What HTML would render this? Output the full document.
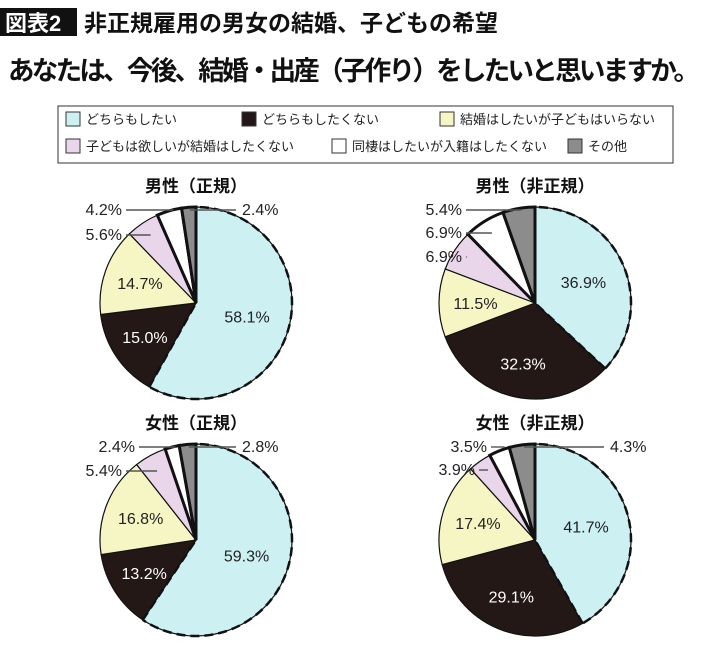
<!DOCTYPE html>
<html><head><meta charset="utf-8">
<style>
body{margin:0;background:#fff;width:710px;height:647px;overflow:hidden;font-family:"Liberation Sans","Noto Sans CJK JP",sans-serif;}
svg{display:block}
</style></head><body>
<svg id="chart" width="710" height="647" viewBox="0 0 710 647" xmlns="http://www.w3.org/2000/svg" font-family="Liberation Sans, Noto Sans CJK JP, sans-serif">
  <rect x="0" y="8" width="77" height="28" fill="#111"/>
  <text x="5" y="31" font-size="22" font-weight="bold" fill="#fff">図表2</text>
  <text x="84" y="31" font-size="23" font-weight="bold" fill="#111">非正規雇用の男女の結婚、子どもの希望</text>
  <text x="8" y="80" font-size="26.5" font-weight="bold" fill="#111" textLength="692">あなたは、今後、結婚・出産（子作り）をしたいと思いますか。</text>
  <g>
    <rect x="58" y="106" width="615" height="57" fill="#fff" stroke="#333" stroke-width="1"/>
  </g>
  <g id="legend-entries"></g>
  <g id="pies"></g>
</svg>
<script>
const categories = ["どちらもしたい","どちらもしたくない","結婚はしたいが子どもはいらない","子どもは欲しいが結婚はしたくない","同棲はしたいが入籍はしたくない","その他"];
const colors = ["#cdf1f3","#231815","#f6f6c4","#ead6ea","#ffffff","#8c8c8c"];
const pieTitles = ["男性（正規）","男性（非正規）","女性（正規）","女性（非正規）"];
const menRegular = [58.1,15.0,14.7,5.6,4.2,2.4];
const menIrregular = [36.9,32.3,11.5,6.9,6.9,5.4];
const womenRegular = [59.3,13.2,16.8,5.4,2.4,2.8];
const womenIrregular = [41.7,29.1,17.4,3.9,3.5,4.3];
const series = [menRegular,menIrregular,womenRegular,womenIrregular];

const NS="http://www.w3.org/2000/svg";
function mk(tag,attrs,parent){const e=document.createElementNS(NS,tag);for(const k in attrs)e.setAttribute(k,attrs[k]);parent.appendChild(e);return e;}

const lg=document.getElementById('legend-entries');
const legPos=[[66,119],[242,119],[440,119],[66,146],[332,146],[568,146]];
categories.forEach((c,i)=>{
  const g=mk('g',{},lg);
  
  
  const [x,y]=legPos[i];
  mk('rect',{x:x,y:y-7,width:14,height:14,fill:colors[i],stroke:'#333','stroke-width':1},g);
  const t=mk('text',{x:x+20,y:y+5,'font-size':13,fill:'#222'},g);
  t.textContent=c;
});

const centers=[[196,303],[535,303],[196,540],[535,540]];
const R=96;
const smallLayout=[
  [[122,240,'end'],[122,215,'end'],[240,215,'start']],
  [[462,262,'end'],[462,238,'end'],[462,215,'end']],
  [[122,476,'end'],[135,452,'end'],[240,452,'start']],
  [[475,475,'end'],[487,452,'end'],[608,452,'start']]
];
const innerR=[0.55,0.64,0.62];
const pg=document.getElementById('pies');
function pt(cx,cy,r,f){const a=f*2*Math.PI;return [cx+r*Math.sin(a),cy-r*Math.cos(a)];}
series.forEach((vals,p)=>{
  const [cx,cy]=centers[p];
  const g=mk('g',{},pg);
  
  
  const tt=mk('text',{x:cx,y:cy-111,'text-anchor':'middle','font-size':17,'font-weight':'bold',fill:'#111'},g);
  
  
  tt.textContent=pieTitles[p];
  const total=vals.reduce((a,b)=>a+b,0);
  let acc=0;
  const arcs=[];
  vals.forEach((v,i)=>{
    const f0=acc/total, f1=(acc+v)/total; acc+=v;
    arcs.push([f0,f1]);
    const [x0,y0]=pt(cx,cy,R,f0),[x1,y1]=pt(cx,cy,R,f1);
    const large=(f1-f0)>0.5?1:0;
    const path=mk('path',{d:`M${cx},${cy} L${x0},${y0} A${R},${R} 0 ${large} 1 ${x1},${y1} Z`,fill:colors[i],stroke:'#111','stroke-width':(i>=4?3:1.2),'stroke-linejoin':'miter'},g);
    
    
  });
  const [f0,f1]=arcs[0];
  const [a0x,a0y]=pt(cx,cy,R,f0),[a1x,a1y]=pt(cx,cy,R,f1);
  mk('path',{d:`M${a1x},${a1y} L${cx},${cy} L${a0x},${a0y} A${R},${R} 0 ${(f1-f0)>0.5?1:0} 1 ${a1x},${a1y}`,fill:'none',stroke:'#111','stroke-width':2.5,'stroke-dasharray':'9,5'},g);
  vals.forEach((v,i)=>{
    const mid=(arcs[i][0]+arcs[i][1])/2;
    if(i<3){
      const [lx,ly]=pt(cx,cy,R*innerR[i],mid);
      const t=mk('text',{x:lx,y:ly+6,'text-anchor':'middle','font-size':16,fill:i==1?'#fff':'#222'},g);
      
      
      t.textContent=v.toFixed(1)+'%';
    } else {
      const [tx,ty,anc]=smallLayout[p][i-3];
      const [ex]=pt(cx,cy,R*0.85,mid);
      const sx=anc==='end'?tx+4:tx-4;
      mk('line',{x1:sx,y1:ty-5,x2:ex,y2:ty-5,stroke:'#555','stroke-width':1.4},g);
      const t=mk('text',{x:anc==='end'?tx:tx+2,y:ty,'text-anchor':anc,'font-size':16,fill:'#222'},g);
      
      
      t.textContent=v.toFixed(1)+'%';
    }
  });
});
</script>
</body></html>
